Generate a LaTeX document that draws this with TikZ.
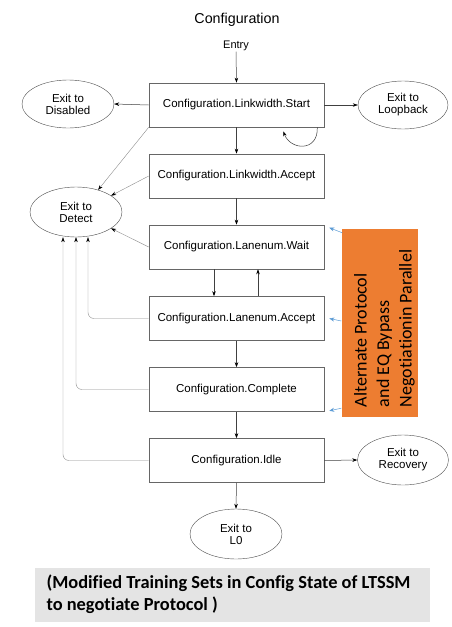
\documentclass[tikz,border=0pt]{standalone}
\usepackage{fontspec}
\setmainfont{Liberation Sans}
\newfontfamily\calfont[Ligatures={NoCommon,NoRequired,NoContextual}]{Carlito}
\usepackage{graphicx}
\usetikzlibrary{shapes.geometric,arrows.meta,calc}
\definecolor{altorange}{HTML}{ED7D31}
\definecolor{altblue}{HTML}{5B9BD5}
\definecolor{notegray}{HTML}{E4E4E4}
\begin{document}
\begin{tikzpicture}[x=1pt,y=-1pt,
  state/.style={draw=black!60,line width=0.6pt,minimum width=175pt,minimum height=44pt,inner sep=0pt,font=\fontsize{11.5}{13}\selectfont},
  exitnode/.style={ellipse,draw=black!70,line width=0.4pt,minimum width=92pt,minimum height=48pt,inner sep=0pt,align=center,font=\fontsize{11.5}{12}\selectfont},
  flow/.style={draw=black!75,line width=0.5pt,-{Stealth[length=5pt,width=3.5pt,black]}},
  tofail/.style={draw=black!45,line width=0.4pt,-{Stealth[length=5pt,width=3.5pt,black]}},
  hint/.style={draw=altblue,line width=0.5pt,-{Stealth[length=5pt,width=4pt]}}
]
\useasboundingbox (0,0) rectangle (451,627);
\node[font=\fontsize{14.3}{16}\selectfont] (title) at (237,19.5) {Configuration};
\node[font=\fontsize{11}{13}\selectfont,inner sep=1pt] (entry) at (236,45.5) {Entry};
\node[state] (s1) at (236.5,105) {Configuration.Linkwidth.Start};
\node[state] (s2) at (236.5,176) {Configuration.Linkwidth.Accept};
\node[state] (s3) at (236.5,247) {Configuration.Lanenum.Wait};
\node[state] (s4) at (236.5,318.5) {Configuration.Lanenum.Accept};
\node[state] (s5) at (236.5,389.5) {Configuration.Complete};
\node[state] (s6) at (236.5,460.5) {Configuration.Idle};
\node[exitnode] (dis) at (68,104) {Exit to\\Disabled};
\node[exitnode,minimum width=90pt] (loop) at (403,105) {Exit to\\Loopback};
\node[exitnode,minimum height=50pt] (det) at (76,212) {Exit to\\Detect};
\node[exitnode,minimum width=91pt,minimum height=50pt] (rec) at (403,460) {Exit to\\Recovery};
\node[exitnode,minimum height=50pt] (l0) at (236,534) {Exit to\\L0};
\node[fill=altorange,minimum width=76pt,minimum height=188pt,inner sep=0pt] (alt) at (379.5,323)
  {\rotatebox{90}{\parbox{168pt}{\vspace*{10pt}\raggedright\calfont\fontsize{18}{22.5}\selectfont Alternate Protocol\\and EQ Bypass\\Negotiationin Parallel}}};
\node[fill=notegray,minimum height=54pt,minimum width=395pt,inner sep=0pt,
  font=\calfont\bfseries\fontsize{18.4}{23}\selectfont] (note) at (232.5,595)
  {\begin{tabular}{@{}l@{}}(Modified Training Sets in Config State of LTSSM\\[-1pt]to negotiate Protocol )\end{tabular}\hspace*{8pt}};
% main flow
\draw[flow] (entry.south) -- (s1.north);
\draw[flow] (s1.south) -- (s2.north);
\draw[flow] (s2.south) -- (s3.north);
\draw[flow] ([xshift=-22.5pt]s3.south) -- ([xshift=-22.5pt]s4.north);
\draw[flow] ([xshift=21.5pt]s4.north) -- ([xshift=21.5pt]s3.south);
\draw[flow] (s4.south) -- (s5.north);
\draw[flow] (s5.south) -- (s6.north);
\draw[flow] (s6.south) -- (l0.north);
\draw[flow] (s1.west) -- (dis.east);
\draw[flow] (s1.east) -- (loop.west);
\draw[flow] (s6.east) -- (rec.west);
\draw[flow] ($(s1.south east)+(-7,0)$) .. controls +(1,25) and +(7,19) .. ($(s1.south east)+(-41,4)$);
% to detect
\draw[tofail] (s1.south west) -- (det.45);
\draw[tofail] (s2.west) -- (det.25);
\draw[tofail] (s3.west) -- (det.-25);
\draw[tofail,rounded corners=6pt] (s4.west) -| ($(det.south)+(12,0)$);
\draw[tofail,rounded corners=6pt] (s5.west) -| (det.south);
\draw[tofail,rounded corners=6pt] (s6.west) -| ($(det.south)+(-13,0)$);
% hints
\draw[hint] ($(alt.north west)+(1,4)$) -- ($(s3.north east)+(5,3)$);
\draw[hint] ($(alt.west)+(0,-2)$) -- ($(s4.east)+(5,0)$);
\draw[hint] ($(alt.south west)+(0,-9)$) -- ($(s5.south east)+(5,-1)$);
\end{tikzpicture}
\end{document}
